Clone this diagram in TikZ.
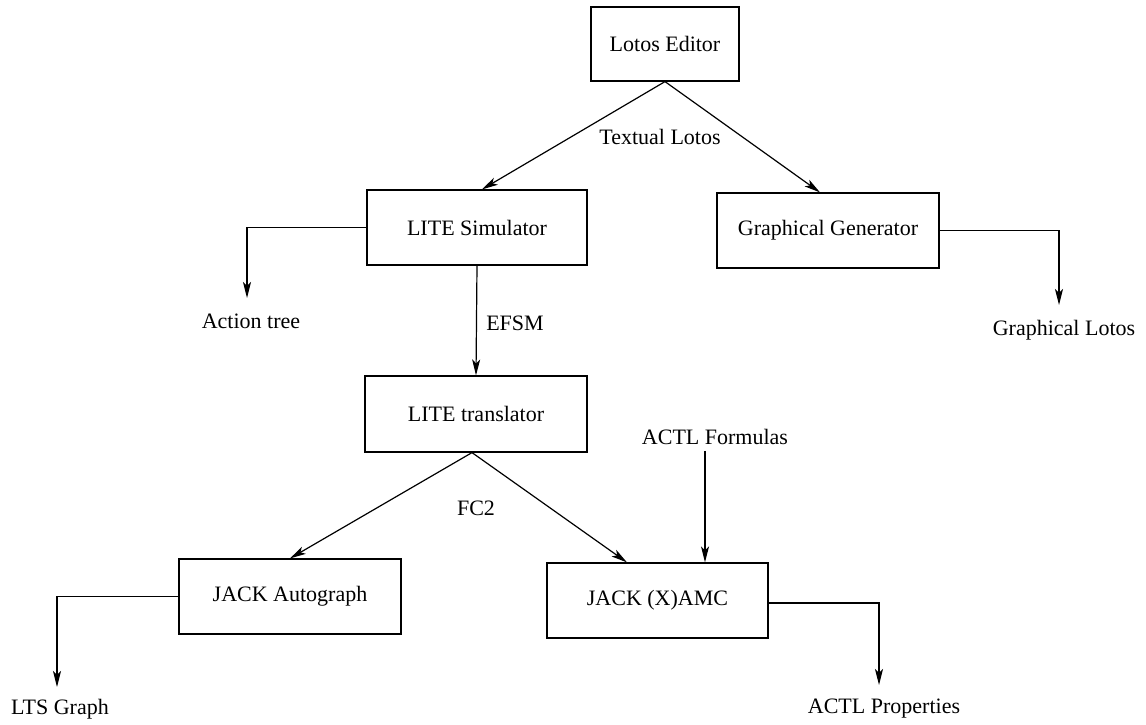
\documentclass[tikz,border=0pt]{standalone}
\usepackage{fontspec}
\setmainfont{Liberation Serif}
\usetikzlibrary{arrows.meta,calc}
\begin{document}
\begin{tikzpicture}[x=1pt,y=-1pt,
  every node/.style={font=\fontsize{22}{26}\selectfont},
  box/.style={draw, line width=1.2pt, minimum width=222pt, minimum height=75pt, inner sep=0pt},
  lab/.style={inner sep=0pt},
  arr/.style={line width=1.2pt, -{Stealth[length=16pt,width=8pt,inset=4pt]}},
  ln/.style={line width=1.2pt}]
\useasboundingbox (0,0) rectangle (1146,725);
% boxes
\node[box, minimum width=148pt, minimum height=74pt] (ed) at (665,44) {Lotos Editor};
\node[box, minimum width=220pt] (sim) at (477,227.5) {LITE Simulator};
\node[box] (gen) at (828,230.5) {Graphical Generator};
\node[box, minimum height=76pt] (tr) at (476,414) {LITE translator};
\node[box] (ag) at (290,596.5) {JACK Autograph};
\node[box, minimum width=221pt] (amc) at (657.5,600.5) {JACK (X)AMC};
% labels
\node[lab] (tl) at (660,137) {Textual Lotos};
\node[lab] (at) at (251,321) {Action tree};
\node[lab] (efsm) at (515,323) {EFSM};
\node[lab] (gl) at (1064,330) {Graphical Lotos};
\node[lab] (fc) at (476,508) {FC2};
\node[lab] (af) at (715,437) {ACTL Formulas};
\node[lab] (lts) at (60,709) {LTS Graph};
\node[lab] (ap) at (884,709) {ACTL Properties};
% tips
\coordinate (atTip) at (247,298);
\coordinate (glTip) at (1059,305);
\coordinate (ltsTip) at (57,687);
\coordinate (apTip) at (879,685);
\coordinate (afx) at (705,0);
% connectors
\draw[arr] (ed.south) -- ($(sim.north)+(5,0)$);
\draw[arr] (ed.south) -- ($(gen.north)+(-8,0)$);
\draw[arr] (sim.west) -| (atTip);
\draw[arr] (gen.east) -| (glTip);
\draw[arr] (sim.south) -- (tr.north);
\draw[arr] ($(tr.south)+(-4,0)$) -- (ag.north);
\draw[arr] ($(tr.south)+(-4,0)$) -- ($(amc.north)+(-30.5,0)$);
\draw[arr] ($(af.south -| afx)+(0,6)$) -- (amc.north -| afx);
\draw[arr] (ag.west) -| (ltsTip);
\draw[arr] ($(amc.east)+(0,2.5)$) -| (apTip);
\end{tikzpicture}
\end{document}
